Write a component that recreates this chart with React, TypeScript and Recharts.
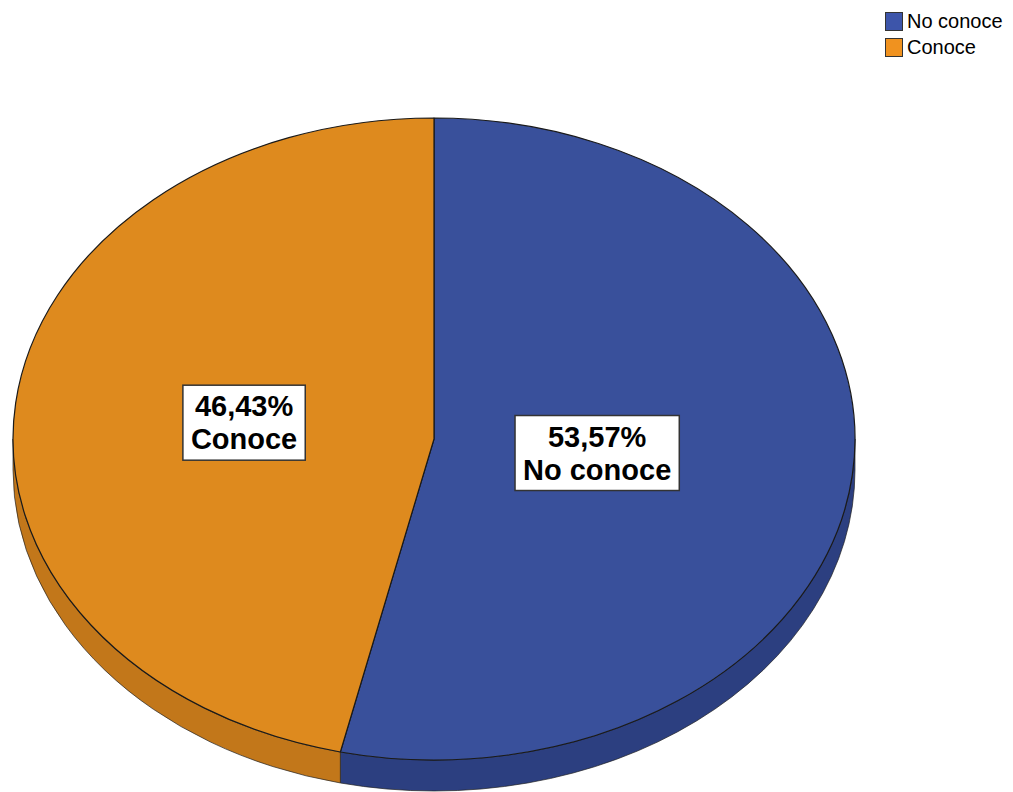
import React, { useLayoutEffect, useRef, useState } from 'react';
import { PieChart, Pie, Cell, Legend } from 'recharts';

const categories = ['No conoce', 'Conoce'];
const percentages = [53.57, 46.43];
const topColors = ['#39509b', '#de8a1e'];
const sideColors = ['#2c3f80', '#c2771a'];
const legendColors = ['#3d55aa', '#f0921f'];

const data = categories.map((name, i) => ({ name, value: percentages[i], idx: i }));

const RATIO = 0.7625;
const DEPTH = 31;
const RAD = Math.PI / 180;

function pt(cx: number, cy: number, rx: number, ry: number, a: number, dy = 0) {
  return [cx + rx * Math.cos(a * RAD), cy - ry * Math.sin(a * RAD) + dy];
}

function lowerIntervals(a: number, b: number) {
  const lo = Math.min(a, b);
  const hi = Math.max(a, b);
  const res: [number, number][] = [];
  for (let k = -2; k <= 2; k++) {
    const L = -180 + 360 * k;
    const H = 0 + 360 * k;
    const l = Math.max(lo, L);
    const h = Math.min(hi, H);
    if (h > l) res.push([l, h]);
  }
  return res;
}

const EllipseSector = (props: any) => {
  const { cx, cy, outerRadius, startAngle, endAngle, payload, index } = props;
  const i = payload && payload.idx !== undefined ? payload.idx : index;
  const rx = outerRadius;
  const ry = outerRadius * RATIO;
  const s = pt(cx, cy, rx, ry, startAngle);
  const e = pt(cx, cy, rx, ry, endAngle);
  const span = Math.abs(startAngle - endAngle);
  const large = span > 180 ? 1 : 0;
  const sweep = startAngle > endAngle ? 1 : 0;
  const top = `M${cx},${cy} L${s[0]},${s[1]} A${rx},${ry} 0 ${large} ${sweep} ${e[0]},${e[1]} Z`;
  const sides = lowerIntervals(startAngle, endAngle).map(([l, h], k) => {
    const p1 = pt(cx, cy, rx, ry, h);
    const p2 = pt(cx, cy, rx, ry, l);
    const p3 = pt(cx, cy, rx, ry, l, DEPTH);
    const p4 = pt(cx, cy, rx, ry, h, DEPTH);
    const d = `M${p1[0]},${p1[1]} A${rx},${ry} 0 0 1 ${p2[0]},${p2[1]} L${p3[0]},${p3[1]} A${rx},${ry} 0 0 0 ${p4[0]},${p4[1]} Z`;
    return <path key={k} d={d} fill={sideColors[i]} stroke="#222" strokeWidth={0.7} strokeLinejoin="round" />;
  });
  return (
    <g>
      {sides}
      <path d={top} fill={topColors[i]} stroke="#1a1a1a" strokeWidth={1.2} strokeLinejoin="round" />
    </g>
  );
};

const LabelBox = ({ x, y, lines }: { x: number; y: number; lines: string[] }) => {
  const ref = useRef<SVGTextElement>(null);
  const [bb, setBb] = useState<{ x: number; y: number; w: number; h: number } | null>(null);
  useLayoutEffect(() => {
    if (ref.current) {
      const b = ref.current.getBBox();
      setBb({ x: b.x, y: b.y, w: b.width, h: b.height });
    }
  }, [x, y]);
  const fs = 29;
  const lh = 33;
  return (
    <g>
      {bb && (
        <rect x={bb.x - 8} y={bb.y - 5} width={bb.w + 16} height={bb.h + 10} fill="#ffffff" stroke="#333" strokeWidth={1.5} />
      )}
      <text ref={ref} x={x} y={y} textAnchor="middle" fontFamily="'Liberation Sans', Arial, sans-serif" fontSize={fs} fontWeight="bold" fill="#000">
        <tspan x={x} dy={-lh / 2 + 10}>{lines[0]}</tspan>
        <tspan x={x} dy={lh}>{lines[1]}</tspan>
      </text>
    </g>
  );
};

const labelFactor = [0.39, 0.454];

const renderLabel = (props: any) => {
  const { cx, cy, midAngle, outerRadius, payload, index } = props;
  const i = payload && payload.idx !== undefined ? payload.idx : index;
  const f = labelFactor[i];
  const rx = outerRadius * f;
  const ry = outerRadius * RATIO * f;
  const [x, y] = pt(cx, cy, rx, ry, midAngle);
  const pctText = percentages[i].toFixed(2).replace('.', ',') + '%';
  return <LabelBox key={`lbl-${i}`} x={x} y={y} lines={[pctText, categories[i]]} />;
};

const renderLegend = () => (
  <div style={{ fontFamily: "'Liberation Sans', Arial, sans-serif", fontSize: 20, color: '#000', lineHeight: '26px', whiteSpace: 'nowrap' }}>
    {categories.map((c, i) => (
      <div key={c} style={{ display: 'flex', alignItems: 'center', height: 26 }}>
        <span style={{ display: 'inline-block', width: 16, height: 17, background: legendColors[i], border: '1.5px solid #333', marginRight: 4, flexShrink: 0 }} />
        <span>{c}</span>
      </div>
    ))}
  </div>
);

export default function App() {
  return (
    <div style={{ width: 1005, height: 784, background: '#fff' }}>
      <PieChart width={1005} height={784} margin={{ top: 0, right: 0, bottom: 0, left: 0 }}>
        <Pie
          data={data}
          dataKey="value"
          nameKey="name"
          cx={426}
          cy={431}
          outerRadius={421}
          startAngle={90}
          endAngle={-270}
          isAnimationActive={false}
          shape={EllipseSector}
          label={renderLabel}
          labelLine={false}
        >
          {data.map((d, i) => (
            <Cell key={d.name} fill={topColors[i]} />
          ))}
        </Pie>
        <Legend
          layout="vertical"
          align="right"
          verticalAlign="middle"
          content={renderLegend}
          wrapperStyle={{ top: 0, left: 877, right: 'auto', width: 128 }}
        />
      </PieChart>
    </div>
  );
}
